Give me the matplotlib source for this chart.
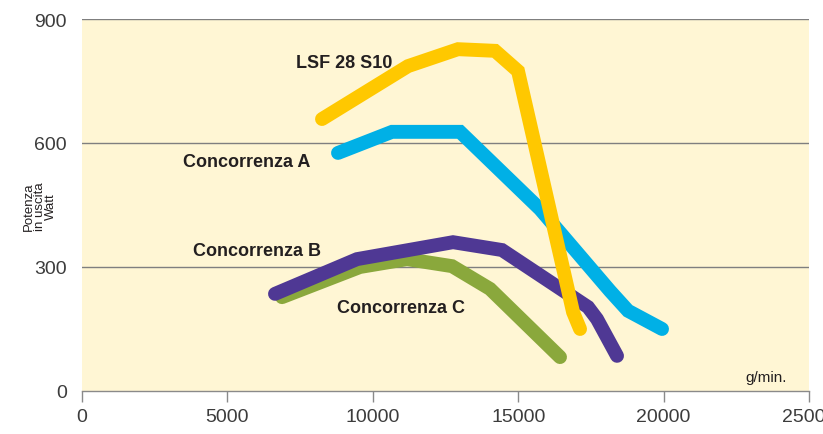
import matplotlib
matplotlib.use("Agg")
import matplotlib.pyplot as plt

plt.rcParams['font.family'] = ['Liberation Sans', 'DejaVu Sans']

# data (g/min vs Watt)
lsf_x = [8254, 11211, 12931, 14203, 14994, 16886, 17127]
lsf_y = [658, 786, 827, 823, 774, 191, 150]

conc_a_x = [8804, 10661, 13000, 15751, 18158, 18777, 19946]
conc_a_y = [576, 627, 627, 440, 242, 194, 150]

conc_b_x = [6637, 9457, 12759, 14444, 17401, 17711, 18399]
conc_b_y = [235, 319, 360, 341, 203, 174, 85]

conc_c_x = [6878, 9560, 11177, 12725, 14031, 16438]
conc_c_y = [227, 300, 319, 302, 247, 82]

x_ticks = [0, 5000, 10000, 15000, 20000, 25000]
y_ticks = [0, 300, 600, 900]

fig = plt.figure(figsize=(8.23, 4.35), dpi=100)
ax = fig.add_axes([0.0996, 0.0989, 0.8834, 0.8551])
ax.set_facecolor('#fff6d4')

for y in y_ticks[1:]:
    ax.axhline(y, color='#7f7f7f', lw=1.0, zorder=1)

lw = 10
kw = dict(solid_capstyle='round', solid_joinstyle='miter', zorder=3)
ax.plot(conc_c_x, conc_c_y, color='#8aa83c', lw=lw, **kw)
ax.plot(conc_b_x, conc_b_y, color='#4f3894', lw=lw, **kw)
ax.plot(conc_a_x, conc_a_y, color='#00b0e6', lw=lw, **kw)
ax.plot(lsf_x, lsf_y, color='#ffc800', lw=lw, **kw)

lbl = dict(fontsize=13, fontweight='bold', color='#231f20', va='center', ha='left', zorder=4)
ax.text(7359, 794, 'LSF 28 S10', **lbl)
ax.text(3473, 556, 'Concorrenza A', **lbl)
ax.text(3817, 339, 'Concorrenza B', **lbl)
ax.text(8769, 201, 'Concorrenza C', **lbl)

ax.text(24245, 16, 'g/min.', fontsize=11, color='#231f20', ha='right', va='bottom')

ax.set_xlim(0, 25000)
ax.set_ylim(0, 900)
ax.set_xticks(x_ticks)
ax.set_yticks(y_ticks)
ax.tick_params(axis='x', length=8, width=1, color='#8a8a8a', direction='out',
               labelsize=14, labelcolor='#3c3c3c', pad=4)
ax.tick_params(axis='y', length=0, labelsize=14, labelcolor='#3c3c3c', pad=11)

for s in ['top', 'right', 'left']:
    ax.spines[s].set_visible(False)
ax.spines['bottom'].set_color('#8a8a8a')
ax.spines['bottom'].set_linewidth(1.0)

fig.text(0.049, 0.524, 'Potenza\nin uscita\nWatt', rotation=90, fontsize=9.5,
         color='#231f20', ha='center', va='center', linespacing=0.9)

fig.savefig('out.png', dpi=100)
